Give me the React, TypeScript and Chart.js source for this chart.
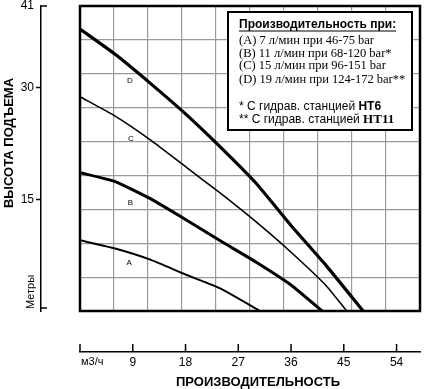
import React, { useEffect, useRef } from 'react';
import { Chart, registerables } from 'chart.js';

Chart.register(...registerables);

// ---- data ----
const flowA = [0, 6, 12, 18, 24, 30.7];
const headA = [9.5, 8.4, 6.9, 4.9, 3.0, 0];
const flowB = [0, 6, 12, 18, 24, 30, 36, 41.3];
const headB = [18.6, 17.4, 15.1, 12.3, 9.4, 6.6, 3.5, 0];
const flowC = [0, 6, 12, 18, 24, 30, 36, 42, 45.5];
const headC = [28.8, 26.2, 23.0, 19.4, 15.8, 12.0, 7.9, 3.4, 0];
const flowD = [0, 6, 12, 18, 24, 30, 36, 42, 48.3];
const headD = [37.9, 34.5, 30.6, 26.5, 22.0, 17.2, 11.5, 6.1, 0];

const curveNames = ['A', 'B', 'C', 'D'];
const curveWidths = [2, 3, 1.6, 3.2];
const labelFlow = [8.4, 8.6, 8.7, 8.5];
const labelHead = [6.5, 14.5, 23.1, 30.9];

const xMax = 58;
const yMax = 41;
const xTickValues = [9, 18, 27, 36, 45, 54];
const yTickValues = [15, 30, 41];
const xGridDivisions = 10;
const yGridDivisions = 9;

const xUnitLabel = 'м3/ч';
const yUnitLabel = 'Метры';
const xTitle = 'ПРОИЗВОДИТЕЛЬНОСТЬ';
const yTitle = 'ВЫСОТА ПОДЪЕМА';

const legendTitle = 'Производительность при:';
const legendLines = [
  '(A) 7 л/мин при 46-75 bar',
  '(B) 11 л/мин при 68-120 bar*',
  '(C) 15 л/мин при 96-151 bar',
  '(D) 19 л/мин при 124-172 bar**',
];
const noteTexts = ['* С гидрав. станцией ', '** С гидрав. станцией '];
const noteBold = ['HT6', 'HT11'];

const SANS = '"Liberation Sans", Arial, sans-serif';
const SERIF = '"Liberation Serif", "Times New Roman", serif';

const toPoints = (xs: number[], ys: number[]) => xs.map((x, i) => ({ x, y: ys[i] }));

const decorPlugin = {
  id: 'decor',
  afterDatasetsDraw(chart: any) {
    const { ctx, chartArea: a, scales } = chart;
    const sx = scales.x;
    const sy = scales.y;
    ctx.save();
    // curve letters
    ctx.fillStyle = '#000';
    ctx.font = `8px ${SANS}`;
    ctx.textAlign = 'center';
    ctx.textBaseline = 'middle';
    curveNames.forEach((n, i) => {
      ctx.fillText(n, sx.getPixelForValue(labelFlow[i]), sy.getPixelForValue(labelHead[i]));
    });
    // plot frame
    ctx.strokeStyle = '#000';
    ctx.lineWidth = 2.5;
    ctx.strokeRect(a.left, a.top, a.right - a.left, a.bottom - a.top);

    // legend box
    const bx = 228, by = 12, bw = 184, bh = 118;
    ctx.fillStyle = '#fff';
    ctx.fillRect(bx, by, bw, bh);
    ctx.lineWidth = 2;
    ctx.strokeRect(bx, by, bw, bh);
    ctx.fillStyle = '#000';
    ctx.textAlign = 'left';
    ctx.textBaseline = 'middle';
    const tx = 239;
    ctx.font = `bold 12px ${SANS}`;
    ctx.fillText(legendTitle, tx, 25);
    const tw = ctx.measureText(legendTitle).width;
    ctx.lineWidth = 1.2;
    ctx.beginPath();
    ctx.moveTo(tx, 31);
    ctx.lineTo(tx + tw, 31);
    ctx.stroke();
    ctx.font = `12.5px ${SERIF}`;
    const rows = [41, 53.5, 66, 79.5];
    legendLines.forEach((l, i) => ctx.fillText(l, tx, rows[i]));
    const nrows = [107, 119.5];
    noteTexts.forEach((t, i) => {
      ctx.font = `12px ${SANS}`;
      ctx.fillText(t, tx, nrows[i]);
      const w = ctx.measureText(t).width;
      ctx.font = i === 0 ? `bold 12px ${SANS}` : `bold 13px ${SERIF}`;
      ctx.fillText(noteBold[i], tx + w, nrows[i]);
    });
    ctx.restore();
  },
  afterDraw(chart: any) {
    const { ctx, chartArea: a, scales } = chart;
    const x2 = scales.x2;
    const y2 = scales.y2;
    ctx.save();
    ctx.strokeStyle = '#000';
    ctx.lineWidth = 1.5;
    // x axis tick marks pointing up
    const axY = x2.top;
    ctx.beginPath();
    [0, ...xTickValues].forEach((v) => {
      const px = x2.getPixelForValue(v);
      ctx.moveTo(px, axY);
      ctx.lineTo(px, axY - 8);
    });
    // y axis end caps pointing right
    const axX = y2.right;
    ctx.moveTo(axX, y2.getPixelForValue(yMax));
    ctx.lineTo(axX + 6, y2.getPixelForValue(yMax));
    ctx.moveTo(axX, a.bottom - 3);
    ctx.lineTo(axX + 6, a.bottom - 3);
    ctx.stroke();

    ctx.fillStyle = '#000';
    ctx.textBaseline = 'middle';
    ctx.font = `11px ${SANS}`;
    ctx.textAlign = 'left';
    ctx.fillText(xUnitLabel, a.left + 1, 362);
    ctx.font = `bold 13px ${SANS}`;
    ctx.textAlign = 'center';
    ctx.fillText(xTitle, 258, 382);

    ctx.save();
    ctx.translate(9, 143);
    ctx.rotate(-Math.PI / 2);
    ctx.fillText(yTitle, 0, 0);
    ctx.restore();

    ctx.save();
    ctx.translate(31, 292);
    ctx.rotate(-Math.PI / 2);
    ctx.font = `11px ${SANS}`;
    ctx.fillText(yUnitLabel, 0, 0);
    ctx.restore();
    ctx.restore();
  },
};

const noPad = (s: any) => {
  s.paddingTop = 0;
  s.paddingBottom = 0;
  s.paddingLeft = 0;
  s.paddingRight = 0;
};

export default function App() {
  const ref = useRef<HTMLCanvasElement | null>(null);
  useEffect(() => {
    if (!ref.current) return;
    const mk = (xs: number[], ys: number[], i: number) => ({
      label: curveNames[i],
      data: toPoints(xs, ys),
      borderColor: '#000',
      borderWidth: curveWidths[i],
      pointRadius: 0,
      fill: false,
      tension: 0.15,
      xAxisID: 'x',
      yAxisID: 'y',
    });
    const chart = new Chart(ref.current, {
      type: 'line',
      data: {
        datasets: [
          mk(flowA, headA, 0),
          mk(flowB, headB, 1),
          mk(flowC, headC, 2),
          mk(flowD, headD, 3),
        ],
      },
      options: {
        responsive: false,
        animation: false,
        layout: { padding: { top: 6, right: 6, left: 0, bottom: 0 } },
        plugins: { legend: { display: false }, tooltip: { enabled: false } },
        scales: {
          x: {
            type: 'linear',
            position: 'bottom',
            weight: 0,
            min: 0,
            max: xMax,
            afterBuildTicks: (s: any) => {
              s.ticks = Array.from({ length: xGridDivisions + 1 }, (_, i) => ({ value: (i * xMax) / xGridDivisions }));
            },
            ticks: { display: false },
            grid: { color: '#9a9a9a', lineWidth: 1.2, drawTicks: false },
            border: { display: false },
            afterFit: (s: any) => { s.height = 41; noPad(s); },
          },
          x2: {
            type: 'linear',
            position: 'bottom',
            weight: 1,
            min: 0,
            max: xMax,
            afterBuildTicks: (s: any) => { s.ticks = xTickValues.map((v) => ({ value: v })); },
            ticks: { color: '#000', font: { family: SANS, size: 12 }, padding: 3, maxRotation: 0 },
            grid: { drawOnChartArea: false, drawTicks: false },
            border: { display: true, color: '#000', width: 1.5 },
            afterFit: (s: any) => { s.height = 37; noPad(s); },
          },
          y: {
            type: 'linear',
            position: 'left',
            weight: 0,
            min: 0,
            max: yMax,
            afterBuildTicks: (s: any) => {
              s.ticks = Array.from({ length: yGridDivisions + 1 }, (_, i) => ({ value: (i * yMax) / yGridDivisions }));
            },
            ticks: { display: false },
            grid: { color: '#9a9a9a', lineWidth: 1.2, drawTicks: false },
            border: { display: false },
            afterFit: (s: any) => { s.width = 39; noPad(s); },
          },
          y2: {
            type: 'linear',
            position: 'left',
            weight: 1,
            min: 0,
            max: yMax,
            afterBuildTicks: (s: any) => { s.ticks = yTickValues.map((v) => ({ value: v })); },
            ticks: { color: '#000', font: { family: SANS, size: 12 }, padding: 2 },
            grid: {
              drawOnChartArea: false,
              drawTicks: true,
              tickLength: 5,
              tickWidth: 1.5,
              tickColor: (c: any) => (c.tick && c.tick.value === yMax ? 'rgba(0,0,0,0)' : '#000'),
            },
            border: { display: true, color: '#000', width: 1.5 },
            afterFit: (s: any) => { s.width = 41; noPad(s); },
          },
        },
      },
      plugins: [decorPlugin],
    });
    return () => chart.destroy();
  }, []);
  return (
    <div style={{ position: 'fixed', left: 0, top: 0, width: 426, height: 389, background: '#fff' }}>
      <canvas ref={ref} width={426} height={389} style={{ display: 'block' }} />
    </div>
  );
}
